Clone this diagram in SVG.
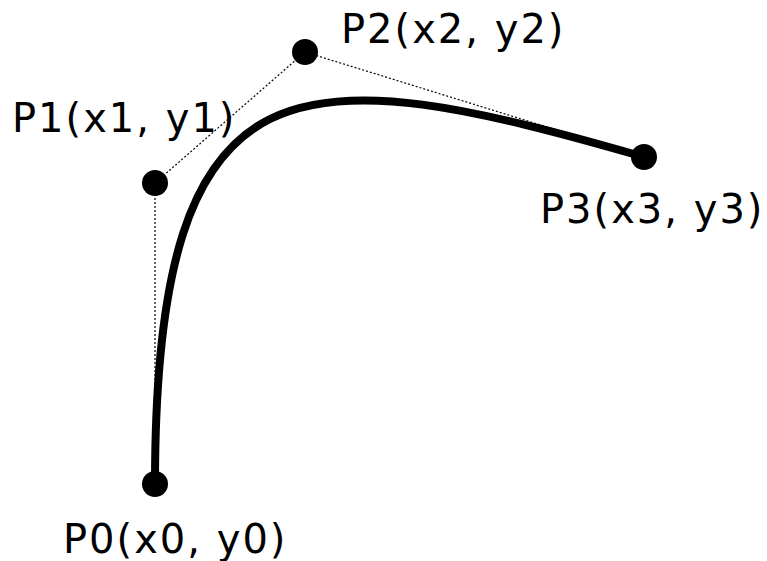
<svg xmlns="http://www.w3.org/2000/svg" width="767" height="561" viewBox="0 0 767 561">
<style>
.lbl{font-family:"DejaVu Sans",Verdana,sans-serif;font-size:40px;letter-spacing:2px;fill:#000}
.guide{fill:none;stroke:#000;stroke-width:1.2;stroke-dasharray:2 2}
.curve{fill:none;stroke:#000;stroke-width:8}
.pt{fill:#000}
</style>
<rect width="767" height="561" fill="#fff"/>
<g id="connectors">
<polyline class="guide" points="155,484 155,183 305,52 644,157"/>
<path class="curve" d="M155,484 C155,45 300,58 644,157"/>
</g>
<g id="p0"><circle class="pt" cx="155" cy="484" r="13"/><text class="lbl" x="63" y="553">P0(x0, y0)</text></g>
<g id="p1"><circle class="pt" cx="155" cy="183" r="13"/><text class="lbl" x="12" y="132">P1(x1, y1)</text></g>
<g id="p2"><circle class="pt" cx="305" cy="52" r="13"/><text class="lbl" x="341" y="43">P2(x2, y2)</text></g>
<g id="p3"><circle class="pt" cx="644" cy="157" r="13"/><text class="lbl" x="540" y="223">P3(x3, y3)</text></g>
</svg>
